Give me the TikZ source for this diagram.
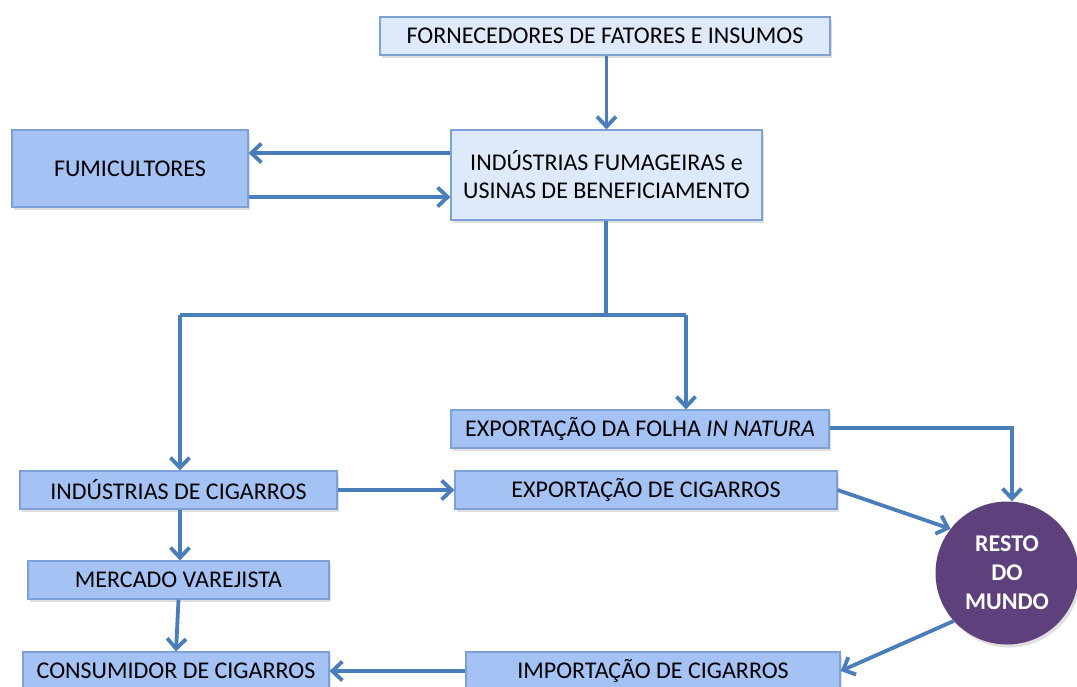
\documentclass[tikz,border=0pt]{standalone}
\usepackage{fontspec}
\setmainfont{Carlito}
\usetikzlibrary{arrows.meta,shadows}
\definecolor{lightfill}{RGB}{222,233,250}
\definecolor{midfill}{RGB}{164,194,244}
\definecolor{boxline}{RGB}{125,160,214}
\definecolor{arrowc}{RGB}{74,126,187}
\definecolor{purplefill}{RGB}{94,64,124}
\tikzset{
  basebox/.style={draw=boxline, line width=1.2pt, inner sep=0pt, align=center,
    font=\fontsize{24}{28}\selectfont,
    drop shadow={opacity=0.25, shadow xshift=2pt, shadow yshift=-3pt}},
  lightbox/.style={basebox, fill=lightfill},
  midbox/.style={basebox, fill=midfill},
  flow/.style={draw=arrowc, line width=3.8pt, -{Straight Barb[length=10pt,width=19pt,line width=3.8pt]}},
  seg/.style={draw=arrowc, line width=3.8pt}
}
\begin{document}
\begin{tikzpicture}[x=1pt,y=-1pt]
\useasboundingbox (0,0) rectangle (1077,686);
% nodes
\node[lightbox, minimum width=450, minimum height=38] (forn) at (605,36) {FORNECEDORES DE FATORES E INSUMOS};
\node[midbox, minimum width=236, minimum height=77] (fumi) at (130,168.5) {FUMICULTORES};
\node[lightbox, minimum width=311, minimum height=90] (ind) at (606.5,175) {INDÚSTRIAS FUMAGEIRAS e\\USINAS DE BENEFICIAMENTO};
\node[midbox, minimum width=378, minimum height=38] (expf) at (640,429) {EXPORTAÇÃO DA FOLHA \textit{IN NATURA}};
\node[midbox, minimum width=317, minimum height=38] (indc) at (178.5,490) {INDÚSTRIAS DE CIGARROS};
\node[midbox, minimum width=382, minimum height=38] (expc) at (646,490) {EXPORTAÇÃO DE CIGARROS};
\node[midbox, minimum width=301, minimum height=38] (merc) at (178.5,580) {MERCADO VAREJISTA};
\node[midbox, minimum width=306, minimum height=38] (cons) at (176,671) {CONSUMIDOR DE CIGARROS};
\node[midbox, minimum width=374, minimum height=38] (imp) at (653,671) {IMPORTAÇÃO DE CIGARROS};
\node[circle, fill=purplefill, minimum size=143, inner sep=0pt, align=center,
  text=white, font=\bfseries\fontsize{24}{29}\selectfont,
  drop shadow={opacity=0.25, shadow xshift=2pt, shadow yshift=-3pt}] (resto) at (1007,573) {RESTO\\DO\\MUNDO};
% coordinates
\coordinate (split) at (606,315);
\coordinate (lc) at (180,315);
\coordinate (rc) at (686,315);
\coordinate (fr) at (1012,428);
% connectors
\draw[flow] (forn.south -| ind.north) -- (ind.north);
\draw[flow] (ind.west |- 0,153) -- (fumi.east |- 0,153);
\draw[flow] (fumi.east |- 0,197) -- (ind.west |- 0,197);
\draw[seg] (ind.south -| split) -- (split);
\draw[seg] (lc) -- (rc);
\draw[flow] (lc) -- (lc |- indc.north);
\draw[flow] (rc) -- (rc |- expf.north);
\draw[flow] (expf.east |- fr) -- (fr) -- (fr |- resto.north);
\draw[flow] (indc.east) -- (expc.west);
\draw[flow] (expc.east) -- (resto.142);
\draw[flow] (lc |- indc.south) -- (lc |- merc.north);
\draw[flow] (merc.south) -- (cons.north);
\draw[flow] (resto.222) -- (imp.east);
\draw[flow] (imp.west) -- (cons.east);
\end{tikzpicture}
\end{document}
